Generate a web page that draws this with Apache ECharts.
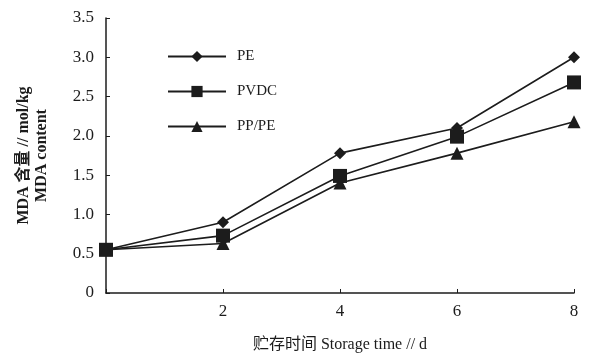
<!DOCTYPE html>
<html>
<head>
<meta charset="utf-8">
<script src="https://cdn.jsdelivr.net/npm/echarts@6/dist/echarts.min.js"></script>
<style>
  html, body { margin: 0; padding: 0; background: #fff; }
  #chart { width: 604px; height: 358px; }
</style>
</head>
<body>
<div id="chart"></div>
<script>
// storage time (d)
const days = [0, 2, 4, 6, 8];
// MDA content
const pe = [0.55, 0.9, 1.78, 2.1, 3.0];
const pvdc = [0.55, 0.73, 1.49, 1.99, 2.68];
const pppe = [0.55, 0.63, 1.4, 1.78, 2.18];

const serif = "'Liberation Serif', 'DejaVu Serif', 'Noto Sans CJK SC', serif";
const ink = "#1c1c1c";

function pairs(ys) {
  return days.map((d, i) => [d, ys[i]]);
}

function lineSeries(name, ys, symbol, size) {
  return {
    name: name,
    type: "line",
    data: pairs(ys),
    symbol: symbol,
    symbolSize: size,
    showSymbol: true,
    lineStyle: { color: ink, width: 1.6 },
    itemStyle: { color: ink, borderWidth: 0 },
    emphasis: { disabled: true },
  };
}

const chart = echarts.init(document.getElementById("chart"));
chart.setOption({
  animation: false,
  backgroundColor: "#fff",
  grid: { left: 106, right: 30, top: 18, bottom: 65, containLabel: false },
  legend: {
    orient: "vertical",
    left: 162,
    top: 44,
    itemWidth: 58,
    itemHeight: 14,
    itemGap: 20,
    textStyle: { fontFamily: serif, fontSize: 15, color: ink, padding: [4, 0, 0, 6] },
    data: ["PE", "PVDC", "PP/PE"],
  },
  xAxis: {
    type: "value",
    min: 0,
    max: 8,
    interval: 2,
    name: "贮存时间 Storage time // d",
    nameLocation: "middle",
    nameGap: 44,
    nameTextStyle: { fontFamily: serif, fontSize: 16, color: ink },
    axisLine: { lineStyle: { color: ink, width: 1.5 } },
    axisTick: { inside: true, length: 4, lineStyle: { color: ink } },
    axisLabel: {
      fontFamily: serif,
      fontSize: 17,
      color: ink,
      margin: 10,
      formatter: (v) => (v === 0 ? "" : String(v)),
    },
    splitLine: { show: false },
  },
  yAxis: {
    type: "value",
    min: 0,
    max: 3.5,
    interval: 0.5,
    name: "MDA 含量 // mol/kg\nMDA content",
    nameLocation: "middle",
    nameGap: 55,
    nameRotate: 90,
    nameTextStyle: { fontFamily: serif, fontSize: 16, fontWeight: "bold", color: ink, lineHeight: 18 },
    axisLine: { show: true, lineStyle: { color: ink, width: 1.5 } },
    axisTick: { show: true, inside: true, length: 4, lineStyle: { color: ink } },
    axisLabel: {
      fontFamily: serif,
      fontSize: 17,
      color: ink,
      margin: 12,
      formatter: (v) => (v === 0 ? "0" : v.toFixed(1)),
    },
    splitLine: { show: false },
  },
  series: [
    lineSeries("PE", pe, "diamond", 12),
    lineSeries("PVDC", pvdc, "rect", 14),
    lineSeries("PP/PE", pppe, "triangle", 13),
  ],
});
</script>
</body>
</html>
